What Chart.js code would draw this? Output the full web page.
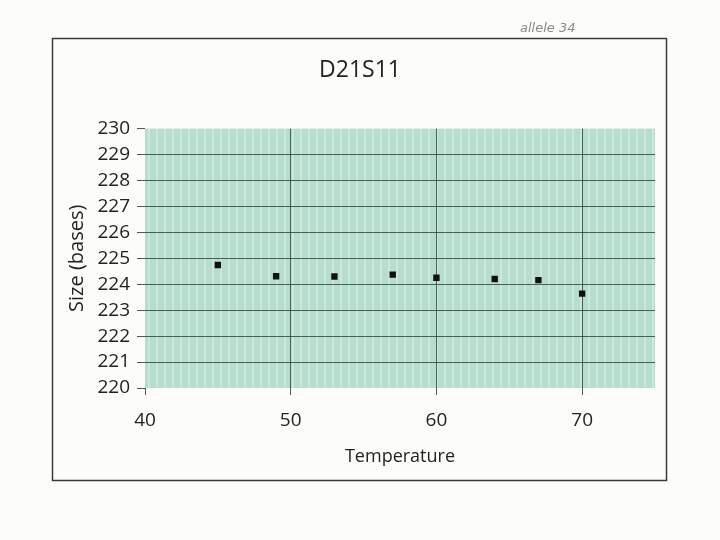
<!DOCTYPE html>
<html>
<head>
<meta charset="utf-8">
<script src="https://cdn.jsdelivr.net/npm/chart.js@4.4.1/dist/chart.umd.min.js"></script>
<style>
  html, body { margin: 0; padding: 0; background: #fcfcfa; }
  #wrap { width: 720px; height: 540px; }
</style>
</head>
<body>
<div id="wrap"><canvas id="chart" width="720" height="540"></canvas></div>
<script>
// Data
const temperatures = [45, 49, 53, 57, 60, 64, 67, 70];
const sizes = [224.74, 224.31, 224.3, 224.37, 224.25, 224.2, 224.16, 223.64];
const xTickValues = [40, 50, 60, 70];

const FONT = "'Open Sans', 'DejaVu Sans', sans-serif";
const TEXT = '#222222';

// Page frame, green plot fill with scan stripes, handwritten note
const paperPlugin = {
    id: 'paper',
    beforeDraw: (chart) => {
        const ctx = chart.ctx;
        const a = chart.chartArea;
        ctx.save();
        ctx.fillStyle = '#fcfcfa';
        ctx.fillRect(0, 0, chart.width, chart.height);

        ctx.strokeStyle = '#3a3a3a';
        ctx.lineWidth = 1.5;
        ctx.strokeRect(52.5, 38.5, 614, 442);

        ctx.fillStyle = '#b5dfcc';
        ctx.fillRect(a.left, a.top, a.right - a.left, a.bottom - a.top);
        ctx.fillStyle = 'rgba(255, 255, 255, 0.3)';
        for (let x = a.left + 3; x < a.right; x += 8) {
            ctx.fillRect(x, a.top, 2, a.bottom - a.top);
        }
        ctx.restore();
    },
    afterDraw: (chart) => {
        const ctx = chart.ctx;
        ctx.save();
        ctx.fillStyle = '#8a8a8a';
        ctx.font = "italic 13px 'DejaVu Sans', sans-serif";
        ctx.textBaseline = 'alphabetic';
        ctx.fillText('allele 34', 520, 32);
        ctx.restore();
    }
};

const hiddenAt = (values) => (c) =>
    (c.tick && values.includes(c.tick.value)) ? 'rgba(0,0,0,0)' : 'rgba(45, 60, 55, 0.8)';

new Chart(document.getElementById('chart').getContext('2d'), {
    type: 'scatter',
    data: {
        datasets: [{
            data: temperatures.map((t, i) => ({ x: t, y: sizes[i] })),
            pointStyle: 'rect',
            pointRadius: 4.5,
            pointHoverRadius: 4.5,
            backgroundColor: '#111111',
            borderWidth: 0
        }]
    },
    plugins: [paperPlugin],
    options: {
        responsive: false,
        animation: false,
        layout: {
            padding: { left: 65, right: 65, top: 0, bottom: 72 }
        },
        plugins: {
            legend: { display: false },
            tooltip: { enabled: false },
            title: {
                display: true,
                text: 'D21S11',
                color: TEXT,
                font: { family: FONT, size: 23, weight: 'normal' },
                padding: { top: 57, bottom: 44 }
            }
        },
        scales: {
            x: {
                type: 'linear',
                min: 40,
                max: 75,
                afterBuildTicks: (s) => {
                    s.ticks = xTickValues.map(v => ({ value: v }));
                },
                afterFit: (s) => { s.height = 80; },
                border: { display: false },
                grid: {
                    color: hiddenAt([40]),
                    tickColor: '#555555',
                    tickLength: 7,
                    lineWidth: 1
                },
                ticks: {
                    color: TEXT,
                    padding: 14,
                    font: { family: FONT, size: 19 }
                },
                title: {
                    display: true,
                    text: 'Temperature',
                    color: TEXT,
                    font: { family: FONT, size: 18 },
                    padding: 0
                }
            },
            y: {
                min: 220,
                max: 230,
                afterFit: (s) => { s.width = 80; },
                border: { display: false },
                grid: {
                    color: hiddenAt([220, 230]),
                    tickColor: '#555555',
                    tickLength: 8,
                    lineWidth: 1
                },
                ticks: {
                    stepSize: 1,
                    color: TEXT,
                    padding: 7,
                    font: { family: FONT, size: 19 }
                },
                title: {
                    display: true,
                    text: 'Size (bases)',
                    color: TEXT,
                    font: { family: FONT, size: 20 },
                    padding: 0
                }
            }
        }
    }
});
</script>
</body>
</html>
